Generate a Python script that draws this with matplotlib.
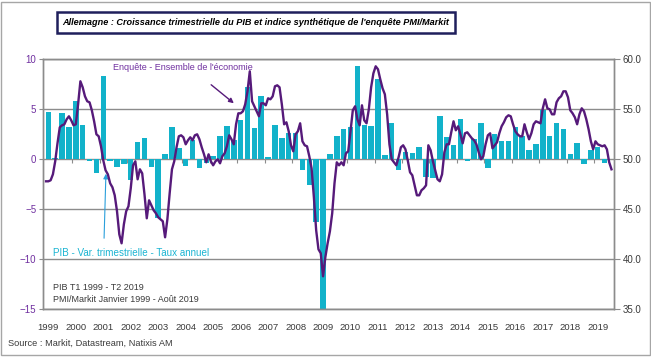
import numpy as np
import matplotlib.pyplot as plt
from matplotlib import font_manager
from matplotlib.patches import Rectangle

# police étroite si disponible
installed = {f.name for f in font_manager.fontManager.ttflist}
narrow = next((f for f in ['Liberation Sans Narrow', 'DejaVu Sans Condensed', 'Liberation Sans']
               if f in installed), 'DejaVu Sans')
plt.rcParams['font.family'] = [narrow, 'DejaVu Sans']

# PIB, variation trimestrielle en taux annuel (T1 1999 - T2 2019)
pib = [4.77, 0.15, 4.65, 3.25,
       5.85, 3.45, -0.2, -1.33,
       8.37, -0.2, -0.8, -0.5,
       -2.07, 1.77, 2.1, -0.73,
       -5.9, 0.5, 3.23, 1.1,
       -0.67, 1.93, -0.9, -0.4,
       0.3, 2.33, 3.37, 1.93,
       3.93, 7.2, 3.1, 6.33,
       0.2, 3.43, 2.1, 2.65,
       2.6, -1.07, -2.57, -6.3,
       -15.0, 0.53, 2.33, 3.03,
       3.27, 9.33, 3.43, 3.37,
       8.03, 0.43, 3.6, -1.07,
       0.77, 0.67, 1.2, -1.73,
       -1.9, 4.33, 2.23, 1.43,
       4.0, -0.13, 2.03, 3.6,
       -0.9, 2.53, 1.85, 1.85,
       3.23, 2.33, 0.9, 1.5,
       4.93, 2.3, 3.6, 3.0,
       0.55, 1.6, -0.5, 0.9,
       1.2, -0.4]

# PMI composite Markit, mensuel (janvier 1999 - août 2019)
pmi = [47.8, 47.8, 47.9, 48.5, 49.8, 51.6, 53.2, 53.4, 53.5, 54.0, 54.3, 53.9,   # 1999
       53.4, 53.5, 55.5, 57.8, 57.2, 56.3, 55.8, 55.7, 54.9, 53.8, 52.5, 52.3,   # 2000
       51.3, 49.9, 48.9, 48.5, 47.6, 47.2, 46.4, 44.8, 42.5, 41.6, 43.5, 44.8,   # 2001
       45.3, 47.1, 49.4, 49.8, 48.0, 49.0, 48.6, 46.5, 44.1, 45.9, 45.4, 44.9,   # 2002
       44.6, 44.2, 44.0, 43.8, 42.2, 44.0, 46.6, 49.0, 49.8, 51.2, 52.3, 52.4,   # 2003
       52.2, 51.5, 51.9, 52.2, 51.9, 52.4, 52.5, 52.0, 51.2, 50.5, 49.7, 50.5,   # 2004
       49.8, 49.4, 49.8, 50.0, 49.6, 50.3, 50.6, 51.3, 52.4, 52.0, 51.5, 53.5,   # 2005
       54.6, 54.6, 54.8, 55.5, 56.8, 58.8, 55.8, 55.3, 54.8, 54.3, 55.6, 55.6,   # 2006
       55.4, 56.1, 56.0, 56.3, 57.3, 57.4, 57.2, 55.5, 53.5, 53.7, 52.8, 51.4,   # 2007
       50.8, 52.5, 52.8, 53.6, 51.8, 51.4, 51.3, 50.3, 49.1, 46.2, 42.9, 41.0,   # 2008
       40.6, 38.3, 40.2, 41.6, 42.8, 44.6, 47.6, 49.7, 49.4, 49.7, 49.4, 50.6,   # 2009
       50.8, 52.8, 54.9, 55.3, 54.0, 53.4, 55.4, 53.9, 53.6, 55.0, 57.2, 58.6,   # 2010
       59.3, 59.0, 58.0, 57.1, 56.5, 54.5, 51.5, 50.0, 49.7, 49.4, 50.2, 51.2,   # 2011
       51.4, 51.0, 49.9, 48.7, 48.4, 47.4, 46.4, 46.4, 46.9, 47.1, 47.4, 51.4,   # 2012
       50.9, 49.8, 48.9, 48.0, 47.8, 48.5, 50.7, 51.5, 51.5, 52.7, 53.8, 52.9,   # 2013
       53.3, 52.5, 51.6, 52.6, 52.7, 52.4, 52.1, 51.9, 51.5, 50.7, 50.0, 50.3,   # 2014
       51.5, 52.4, 52.6, 51.1, 51.4, 51.7, 52.6, 53.3, 53.7, 54.2, 54.4, 54.3,   # 2015
       53.5, 52.8, 52.5, 52.3, 52.3, 53.5, 52.7, 52.0, 52.6, 53.5, 53.8, 53.7,   # 2016
       53.6, 55.1, 56.0, 55.1, 55.0, 54.5, 54.5, 55.7, 56.1, 56.3, 56.8, 56.8,   # 2017
       56.2, 54.9, 54.6, 54.2, 53.5, 54.5, 55.1, 54.8, 54.0, 53.0, 51.8, 51.0,   # 2018
       51.8, 51.5, 51.4, 51.3, 51.4, 51.0, 49.7, 49.0]                           # 2019

annees = list(range(1999, 2020))

CYAN = '#12B2CA'
VIOLET = '#561A7A'
VIOLET_TXT = '#7030A0'
GRIS = '#8C8C8C'
TXT = '#3A3A3A'

W, H = 651, 357
def fx(px):
    return px / W
def fy(py):
    return 1 - py / H

mois = np.arange(len(pmi))
mois_trim = np.arange(len(pib)) * 3 + 1   # mois central du trimestre

fig = plt.figure(figsize=(W / 100, H / 100), dpi=100)
ax = fig.add_axes([fx(43.3), fy(309.3), fx(614) - fx(43.3), fy(59.3) - fy(309.3)])
ax2 = ax.twinx()

# barres PIB
ax.bar(mois_trim, pib, width=2.4, color=CYAN, zorder=2)
ax.set_ylim(-15, 10)
ax.set_xlim(-1.2, 248.1)
ax.set_yticks(range(-15, 11, 5))
ax.grid(axis='y', color=GRIS, lw=1)
ax.set_axisbelow(True)
ax.tick_params(axis='y', colors=GRIS, labelcolor=VIOLET_TXT, labelsize=7, length=3, width=0.8, pad=2)

# petits tirets annuels sur l'axe zéro
ax.vlines(np.arange(1, 21) * 12 - 0.5, -0.35, 0, color=GRIS, lw=0.8, zorder=1)
ax.set_xticks([12 * i + 1 for i in range(len(annees))])
ax.set_xticklabels([str(a) for a in annees])
ax.tick_params(axis='x', length=0, labelsize=6.8, labelcolor=TXT, pad=10)

# ligne PMI
ax2.plot(mois, pmi, color=VIOLET, lw=1.7, zorder=3)
ax2.set_ylim(35, 60)
ax2.set_yticks(range(35, 61, 5))
ax2.set_yticklabels([f'{v:.1f}' for v in range(35, 61, 5)])
ax2.tick_params(axis='y', colors=GRIS, labelcolor=TXT, labelsize=7, length=4, width=0.8, pad=2)

for a in (ax, ax2):
    for s in a.spines.values():
        s.set_color(GRIS)
        s.set_linewidth(1)

# titre encadré
fig.patches.append(Rectangle((fx(57), fy(33)), fx(455) - fx(57), fy(12) - fy(33), transform=fig.transFigure,
                             fc='white', ec='#1F1F5C', lw=1.8))
fig.text(fx(256), fy(22.5), "Allemagne : Croissance trimestrielle du PIB et indice synthétique de l'enquête PMI/Markit",
         ha='center', va='center', fontsize=6.6, fontweight='bold', fontstyle='italic', color='black')

# annotations
fig.text(fx(113), fy(68), "Enquête - Ensemble de l'économie", ha='left', va='center',
         fontsize=6.5, color=VIOLET_TXT)
ax.annotate('', xy=(fx(236), fy(105)), xytext=(fx(209), fy(83)), xycoords='figure fraction',
            textcoords='figure fraction',
            arrowprops=dict(arrowstyle='-|>', color=VIOLET, lw=1, mutation_scale=7))

fig.text(fx(53), fy(253), "PIB - Var. trimestrielle - Taux annuel", ha='left', va='center',
         fontsize=7.1, color='#1AB4D2')
ax.annotate('', xy=(fx(106), fy(171)), xytext=(fx(104), fy(241)), xycoords='figure fraction',
            textcoords='figure fraction',
            arrowprops=dict(arrowstyle='-|>', color='#2A9FDB', lw=0.8, mutation_scale=7))

fig.text(fx(53), fy(287), "PIB T1 1999 - T2 2019", ha='left', va='center', fontsize=6.5, color=TXT)
fig.text(fx(53), fy(299), "PMI/Markit Janvier 1999 - Août 2019", ha='left', va='center', fontsize=6.5, color=TXT)

fig.text(fx(8), fy(343), "Source : Markit, Datastream, Natixis AM", ha='left', va='center', fontsize=6.7, color=TXT)

# cadre extérieur
fig.patches.append(Rectangle((fx(1), fy(355)), fx(649), fy(2) - fy(355), transform=fig.transFigure,
                             fill=False, ec='#A6A6A6', lw=1))

fig.savefig('out.png', dpi=100)
